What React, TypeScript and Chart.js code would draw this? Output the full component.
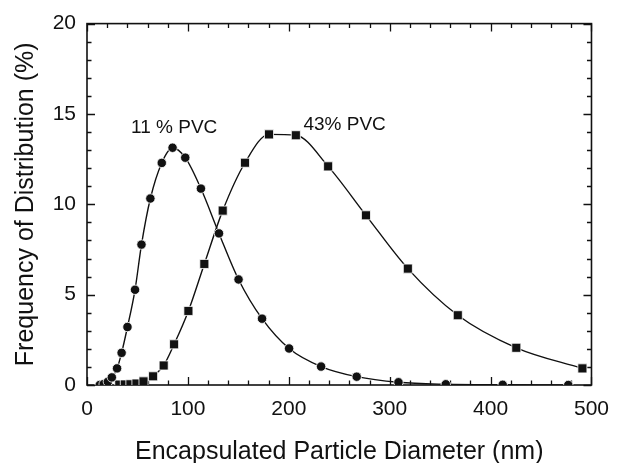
import React, { useEffect, useRef } from "react";
import { Chart, registerables } from "chart.js";

Chart.register(...registerables);

// 11 % PVC series (circles)
const diameters11 = [12.6, 16.5, 20.7, 24.6, 29.8, 34.3, 40.1, 47.6, 54, 62.8, 74.1, 84.8, 97.4, 112.9, 130.8, 150.2, 173.5, 200.3, 232, 267.3, 308.7, 355.6, 412, 477];
const freq11 = [0, 0.05, 0.18, 0.42, 0.92, 1.78, 3.21, 5.27, 7.77, 10.32, 12.29, 13.13, 12.58, 10.87, 8.39, 5.84, 3.67, 2.02, 1.02, 0.46, 0.15, 0.04, 0.01, 0];

// 43% PVC series (squares)
const diameters43 = [32, 37.5, 43, 49, 56, 65.5, 76, 86.3, 100.5, 116.3, 134.5, 156.6, 180.4, 207, 239, 276.5, 318, 367.5, 425.5, 491];
const freq43 = [0.02, 0.03, 0.04, 0.08, 0.2, 0.48, 1.08, 2.25, 4.1, 6.7, 9.65, 12.3, 13.87, 13.82, 12.1, 9.39, 6.44, 3.86, 2.06, 0.92];

// Annotation labels (anchored in data coordinates: centre x, baseline y)
const labelTexts = ["11 % PVC", "43% PVC"];
const labelX = [86.4, 255.3];
const labelY = [13.94, 14.1];

const xTitle = "Encapsulated Particle Diameter (nm)";
const yTitle = "Frequency of Distribution (%)";

const X_MIN = 0, X_MAX = 500, X_MAJOR = 100, X_MINOR = 20;
const Y_MIN = 0, Y_MAX = 20, Y_MAJOR = 5, Y_MINOR = 1;

const FONT = '"Liberation Sans", Arial, Helvetica, sans-serif';
const INK = "#111111";

const framePlugin = {
  id: "frameTicks",
  beforeDatasetsDraw(chart: any) {
    const { ctx, chartArea: a, scales } = chart;
    const x = scales.x, y = scales.y;
    ctx.save();
    ctx.strokeStyle = INK;
    ctx.lineWidth = 1.3;
    ctx.beginPath();
    for (let v = X_MIN; v <= X_MAX + 1e-9; v += X_MINOR) {
      const px = Math.round(x.getPixelForValue(v)) + 0.5;
      const len = v % X_MAJOR === 0 ? 8 : 4.5;
      ctx.moveTo(px, a.bottom); ctx.lineTo(px, a.bottom - len);
      ctx.moveTo(px, a.top); ctx.lineTo(px, a.top + len);
    }
    for (let v = Y_MIN; v <= Y_MAX + 1e-9; v += Y_MINOR) {
      const py = Math.round(y.getPixelForValue(v)) + 0.5;
      const len = v % Y_MAJOR === 0 ? 8 : 4.5;
      ctx.moveTo(a.left, py); ctx.lineTo(a.left + len, py);
      ctx.moveTo(a.right, py); ctx.lineTo(a.right - len, py);
    }
    ctx.stroke();
    ctx.lineWidth = 1.6;
    ctx.strokeRect(a.left, a.top, a.right - a.left, a.bottom - a.top);
    ctx.restore();
  },
  afterDraw(chart: any) {
    const { ctx, chartArea: a, scales } = chart;
    const x = scales.x, y = scales.y;
    ctx.save();
    ctx.fillStyle = INK;
    ctx.textAlign = "center";
    ctx.textBaseline = "alphabetic";
    // annotations
    ctx.font = `19px ${FONT}`;
    for (let i = 0; i < labelTexts.length; i++) {
      ctx.fillText(labelTexts[i], x.getPixelForValue(labelX[i]), y.getPixelForValue(labelY[i]));
    }
    // axis titles
    ctx.font = `25px ${FONT}`;
    ctx.fillText(xTitle, (a.left + a.right) / 2, 459);
    ctx.save();
    ctx.translate(33, (a.top + a.bottom) / 2);
    ctx.rotate(-Math.PI / 2);
    ctx.fillText(yTitle, 0, 0);
    ctx.restore();
    ctx.restore();
  },
};

export default function App() {
  const ref = useRef<HTMLCanvasElement | null>(null);

  useEffect(() => {
    if (!ref.current) return;
    const chart = new Chart(ref.current, {
      type: "scatter",
      data: {
        datasets: [
          {
            label: "11 % PVC",
            data: diameters11.map((d, i) => ({ x: d, y: freq11[i] })),
            showLine: true,
            borderColor: INK,
            borderWidth: 1.4,
            tension: 0.4,
            cubicInterpolationMode: "monotone",
            pointStyle: "circle",
            pointRadius: 4.7,
            pointBackgroundColor: INK,
            pointBorderColor: "#ffffff",
            pointBorderWidth: 0.8,
          },
          {
            label: "43% PVC",
            data: diameters43.map((d, i) => ({ x: d, y: freq43[i] })),
            showLine: true,
            borderColor: INK,
            borderWidth: 1.4,
            tension: 0.4,
            cubicInterpolationMode: "monotone",
            pointStyle: "rect",
            pointRadius: 6.4,
            pointBackgroundColor: INK,
            pointBorderColor: "#ffffff",
            pointBorderWidth: 0.8,
          },
        ],
      },
      options: {
        responsive: false,
        animation: false,
        layout: { padding: { top: 22, right: 19, left: 0, bottom: 0 } },
        plugins: { legend: { display: false }, tooltip: { enabled: false } },
        scales: {
          x: {
            type: "linear",
            min: X_MIN,
            max: X_MAX,
            grid: { display: false, drawTicks: false },
            border: { display: false },
            ticks: { stepSize: X_MAJOR, padding: 12, color: INK, font: { size: 21, family: FONT } },
            afterFit: (s: any) => { s.height = 78; },
          },
          y: {
            type: "linear",
            min: Y_MIN,
            max: Y_MAX,
            grid: { display: false, drawTicks: false },
            border: { display: false },
            ticks: { stepSize: Y_MAJOR, padding: 11, color: INK, font: { size: 21, family: FONT } },
            afterFit: (s: any) => { s.width = 87; },
          },
        },
      },
      plugins: [framePlugin],
    } as any);
    return () => chart.destroy();
  }, []);

  return (
    <div style={{ position: "fixed", left: 0, top: 0, width: 621, height: 463, background: "#fff" }}>
      <canvas ref={ref} width={621} height={463} />
    </div>
  );
}
